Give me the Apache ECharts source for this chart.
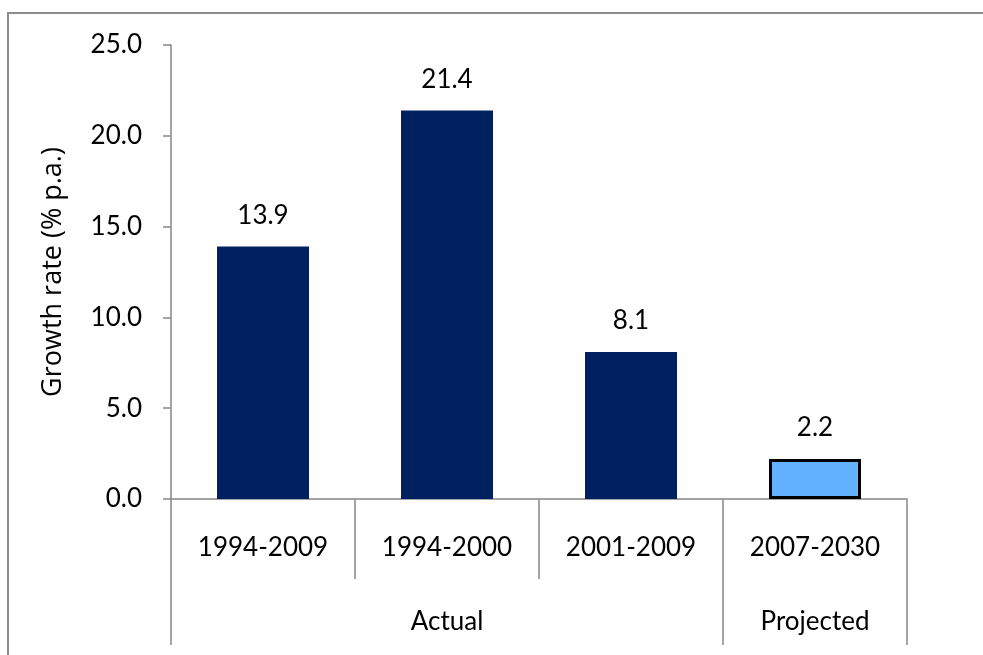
<!DOCTYPE html>
<html>
<head>
<meta charset="utf-8">
<script src="https://cdn.jsdelivr.net/npm/echarts@6/dist/echarts.min.js"></script>
<style>
html,body{margin:0;padding:0;background:#fff;}
#c{width:983px;height:655px;}
</style>
</head>
<body>
<div id="c"></div>
<script>
const categories = ['1994-2009', '1994-2000', '2001-2009', '2007-2030'];
const values = [13.9, 21.4, 8.1, 2.2];
const groups = ['Actual', 'Projected'];
const groupCenters = [1.5, 3.5];
const groupBounds = [0, 3, 4];
const yTicks = [0, 5, 10, 15, 20, 25];

const FONT = 'Lato';
const FS = 26;
const AXIS = '#878787';

const chart = echarts.init(document.getElementById('c'));
chart.setOption({
  animation: false,
  textStyle: { fontFamily: FONT },
  graphic: [{
    type: 'rect', z: -1, silent: true,
    shape: { x: 8, y: 13, width: 1100, height: 800 },
    style: { fill: 'none', stroke: '#8c8c8c', lineWidth: 2 }
  }],
  grid: { left: 171, right: 76, top: 45, bottom: 156, containLabel: false },
  xAxis: [{
    type: 'category',
    data: categories,
    position: 'bottom',
    axisLine: { lineStyle: { color: AXIS, width: 1.5 } },
    axisTick: { show: true, interval: 0, length: 80, lineStyle: { color: AXIS, width: 1.5 } },
    axisLabel: { interval: 0, color: '#000', fontSize: FS, fontFamily: FONT, margin: 36 }
  }, {
    type: 'value',
    min: 0, max: 4,
    position: 'bottom',
    axisLine: { show: false },
    splitLine: { show: false },
    axisTick: { show: true, customValues: groupBounds, length: 146, lineStyle: { color: AXIS, width: 1.5 } },
    axisLabel: {
      customValues: groupCenters, color: '#000', fontSize: FS, fontFamily: FONT, margin: 110,
      formatter: v => v < 3 ? groups[0] : groups[1]
    }
  }],
  yAxis: {
    type: 'value', min: 0, max: 25, interval: 5,
    name: 'Growth rate (% p.a.)',
    nameLocation: 'middle', nameGap: 104,
    nameTextStyle: { color: '#000', fontSize: 27, fontFamily: 'Open Sans' },
    axisLine: { show: true, lineStyle: { color: AXIS, width: 1.5 } },
    axisTick: { show: true, length: 8, lineStyle: { color: AXIS, width: 1.5 } },
    splitLine: { show: false },
    axisLabel: { color: '#000', fontSize: FS, fontFamily: FONT, margin: 29, formatter: v => v.toFixed(1) }
  },
  series: [{
    type: 'bar',
    xAxisIndex: 0,
    barWidth: '50%',
    data: values.map((v, i) => i === 3
      ? { value: v, itemStyle: { color: '#63B2FF', borderColor: '#000', borderWidth: 3 } }
      : { value: v, itemStyle: { color: '#00205F' } }),
    label: {
      show: true, position: 'top', distance: 18, color: '#000', fontSize: FS, fontFamily: FONT,
      formatter: p => p.value.toFixed(1)
    }
  }]
});
</script>
</body>
</html>
